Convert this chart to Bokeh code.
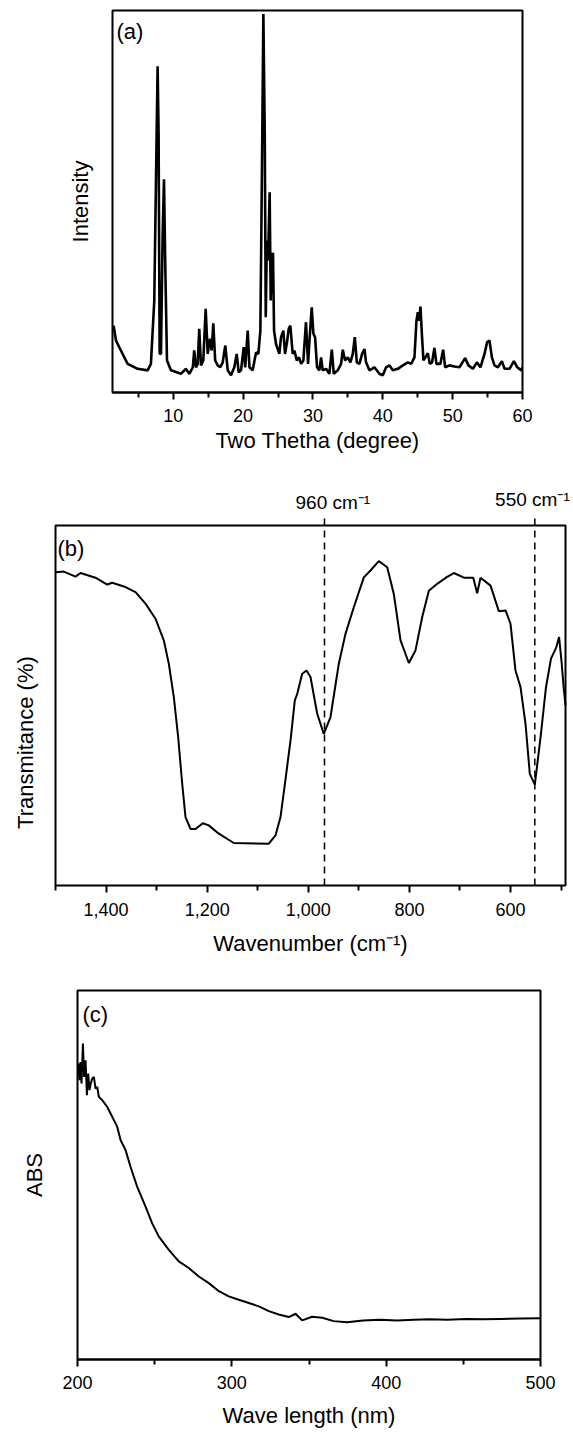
import math
from bokeh.plotting import figure
from bokeh.models import Range1d, FixedTicker, NumeralTickFormatter, Label, BoxAnnotation
from bokeh.embed import file_html
from bokeh.resources import INLINE

FONT = "Liberation Sans"

# ---------------- (a) XRD pattern ----------------
xrd_2theta = [
    1.46, 1.8, 2.5, 3.47, 4.9, 6.33, 6.8, 7.28, 7.62, 7.76,
    7.9, 8.05, 8.24, 8.48, 8.67, 8.86, 9.1, 9.67, 11.1, 11.8,
    12.3, 12.8, 13.0, 13.25, 13.5, 13.72, 13.97, 14.3, 14.64, 14.93,
    15.26, 15.5, 15.73, 16.0, 16.36, 16.73, 17.08, 17.45, 17.8, 18.27,
    18.74, 19.08, 19.37, 19.7, 20.09, 20.3, 20.66, 20.9, 21.37, 21.85,
    22.18, 22.47, 22.7, 22.9, 23.1, 23.24, 23.4, 23.57, 23.8, 23.95,
    24.1, 24.28, 24.43, 24.71, 25.19, 25.43, 25.76, 26.0, 26.29, 26.53,
    26.76, 27.1, 27.34, 27.68, 28.0, 28.3, 28.63, 29.0, 29.3, 29.5,
    29.82, 30.06, 30.3, 30.59, 30.92, 31.16, 31.4, 31.88, 32.35, 32.7,
    32.98, 33.55, 34.03, 34.27, 34.6, 34.99, 35.36, 35.7, 35.99, 36.28,
    36.65, 37.04, 37.37, 37.6, 38.08, 38.8, 39.51, 40.0, 40.47, 40.95,
    41.43, 42.15, 42.87, 43.58, 44.06, 44.53, 44.82, 45.01, 45.2, 45.39,
    45.59, 45.82, 46.1, 46.45, 46.73, 47.06, 47.39, 47.68, 48.25, 48.64,
    48.93, 49.54, 50.26, 50.97, 51.79, 52.26, 52.9, 53.47, 53.98, 54.56,
    54.94, 55.27, 55.62, 55.99, 56.48, 57.05, 57.43, 58.14, 58.77, 59.25,
    59.82, 60.0,
]
xrd_intensity = [
    17.5, 13.6, 11.0, 7.5, 6.2, 5.8, 7.5, 24.0, 67.8, 85.4,
    67.8, 10.2, 10.1, 41.5, 55.8, 32.8, 8.4, 5.8, 4.9, 6.2,
    4.9, 6.6, 11.0, 6.6, 7.5, 16.7, 7.1, 8.4, 21.9, 10.1,
    14.1, 11.0, 18.1, 8.4, 7.1, 6.6, 7.9, 12.3, 5.8, 4.5,
    6.6, 10.1, 5.3, 5.8, 11.9, 6.6, 16.2, 6.6, 5.8, 10.5,
    10.1, 16.2, 59.0, 99.1, 67.7, 19.7, 39.8, 34.6, 52.4, 24.1,
    34.6, 36.6, 16.2, 12.7, 10.1, 14.5, 16.2, 10.1, 13.2, 16.7,
    17.5, 10.1, 11.0, 8.4, 9.2, 7.5, 8.4, 18.4, 7.5, 13.6,
    22.3, 15.4, 14.5, 6.6, 5.8, 9.2, 5.8, 6.2, 4.9, 11.2,
    4.9, 5.8, 7.5, 11.2, 8.4, 9.2, 7.9, 10.1, 14.5, 7.9,
    7.5, 10.1, 11.4, 7.9, 5.8, 6.6, 4.9, 4.5, 6.6, 7.1,
    5.8, 6.2, 7.1, 7.9, 7.5, 9.2, 18.8, 21.0, 18.8, 22.5,
    15.4, 8.4, 9.2, 10.3, 7.5, 7.9, 11.7, 7.5, 7.5, 11.2,
    6.6, 7.1, 6.8, 6.6, 9.0, 7.1, 6.2, 7.9, 6.6, 10.1,
    13.2, 13.6, 9.2, 7.1, 6.6, 8.2, 6.2, 6.2, 8.2, 6.6,
    5.8, 6.6,
]
xrd_ticks = [10, 20, 30, 40, 50, 60]
xrd_minor_ticks = [5, 15, 25, 35, 45, 55]

# ---------------- (b) FTIR spectrum ----------------
ftir_wavenumber = [
    1500, 1483.6, 1460.4, 1450.6, 1420.9, 1397.7, 1387.9, 1361.5, 1341.8, 1322.0,
    1302.2, 1285.8, 1275.9, 1266.0, 1257.4, 1249.4, 1242.9, 1233.0, 1223.1, 1208.7,
    1196.8, 1177.0, 1147.3, 1078.1, 1064.9, 1055.0, 1045.1, 1035.0, 1026.7, 1022.0,
    1012.1, 1003.6, 995.7, 982.4, 969.4, 956.1, 939.7, 926.5, 910.0, 890.2,
    877.0, 860.6, 843.9, 830.9, 817.6, 801.2, 788.0, 774.8, 761.6, 745.1,
    728.0, 712.2, 692.4, 673.8, 666.0, 659.4, 639.6, 623.2, 609.9, 600.1,
    590.2, 580.3, 570.4, 561.9, 552.0, 540.0, 530.0, 520.0, 510.0, 504.0,
    499.0, 495.0, 491.3,
]
ftir_transmittance = [
    87.0, 87.2, 85.8, 86.8, 85.5, 83.6, 84.1, 82.9, 81.5, 78.3,
    74.1, 68.1, 61.6, 52.3, 41.2, 28.2, 19.0, 15.7, 15.7, 17.3,
    16.7, 14.4, 11.8, 11.6, 13.9, 19.0, 29.5, 40.5, 51.4, 53.2,
    58.8, 59.7, 57.9, 47.7, 42.1, 46.8, 61.6, 69.9, 77.3, 85.6,
    87.5, 90.1, 88.4, 81.0, 68.1, 61.8, 65.3, 74.5, 81.9, 83.8,
    85.5, 86.8, 85.5, 85.5, 81.2, 85.5, 83.3, 76.2, 76.4, 72.7,
    59.7, 55.1, 44.9, 31.0, 28.0, 42.0, 55.0, 63.0, 66.0, 69.0,
    62.0, 55.0, 50.0,
]
ftir_ticks = [1400, 1200, 1000, 800, 600]
ftir_minor_ticks = [1500, 1300, 1100, 900, 700, 500]
ftir_marks = [968, 552]
ftir_mark_labels = ["960 cm\u207b\u00b9", "550 cm\u207b\u00b9"]

# ---------------- (c) UV-Vis absorbance ----------------
uv_wavelength = [
    200.0, 200.4, 201.3, 201.9, 202.6, 203.5, 204.3, 205.2, 206.1, 206.9,
    207.8, 208.6, 209.5, 210.6, 211.7, 212.8, 213.8, 216.0, 219.2, 222.5,
    225.7, 227.9, 231.1, 234.3, 238.7, 244.1, 248.4, 252.7, 259.2, 265.6,
    272.1, 278.6, 285.1, 291.6, 298.0, 304.5, 311.0, 317.5, 324.0, 330.4,
    336.9, 341.3, 345.6, 352.0, 358.6, 366.0, 374.7, 385.0, 396.3, 407.0,
    417.9, 428.0, 439.5, 452.0, 463.0, 474.1, 487.0, 500.0,
]
uv_absorbance = [
    78.4, 80.2, 75.7, 80.6, 74.8, 85.6, 76.6, 81.1, 71.6, 77.5,
    73.0, 74.8, 76.1, 76.6, 73.4, 73.9, 71.2, 70.3, 68.5, 65.8,
    63.1, 59.5, 56.8, 52.3, 46.8, 41.4, 36.9, 33.3, 29.7, 26.6,
    24.8, 22.5, 20.7, 18.5, 17.1, 16.2, 15.3, 14.4, 13.1, 12.2,
    11.5, 12.4, 10.6, 11.6, 11.3, 10.4, 10.1, 10.6, 10.8, 10.6,
    10.8, 10.9, 10.8, 11.0, 10.9, 11.0, 11.1, 11.2,
]
uv_ticks = [200, 300, 400, 500]
uv_minor_ticks = [250, 350, 450]


def style_xaxis(ax, xticks, xminor, standoff):
    ax.ticker = FixedTicker(ticks=xticks, minor_ticks=xminor)
    ax.axis_line_color = "black"
    ax.axis_line_width = 2
    ax.major_tick_line_color = "black"
    ax.major_tick_line_width = 2
    ax.minor_tick_line_color = "black"
    ax.minor_tick_line_width = 2
    ax.major_tick_in = 0
    ax.major_tick_out = 7
    ax.minor_tick_in = 0
    ax.minor_tick_out = 5
    ax.major_label_standoff = standoff
    ax.major_label_text_font = FONT
    ax.major_label_text_font_size = "18px"
    ax.major_label_text_color = "black"


def style_std(p, xticks, xminor, xlabel, ylabel, xlabel_standoff, ylabel_standoff):
    p.grid.visible = False
    p.outline_line_color = "black"
    p.outline_line_width = 2
    p.outline_line_alpha = 1.0
    ax = p.xaxis[0]
    style_xaxis(ax, xticks, xminor, 9)
    ax.axis_label = xlabel
    ax.axis_label_text_font = FONT
    ax.axis_label_text_font_size = "22px"
    ax.axis_label_text_font_style = "normal"
    ax.axis_label_text_color = "black"
    ax.axis_label_standoff = xlabel_standoff
    ay = p.yaxis[0]
    ay.ticker = FixedTicker(ticks=[])
    ay.major_tick_in = 0
    ay.major_tick_out = 0
    ay.minor_tick_in = 0
    ay.minor_tick_out = 0
    ay.axis_line_color = None
    ay.major_label_standoff = 0
    ay.axis_label = ylabel
    ay.axis_label_text_font = FONT
    ay.axis_label_text_font_size = "22px"
    ay.axis_label_text_font_style = "normal"
    ay.axis_label_text_color = "black"
    ay.axis_label_standoff = ylabel_standoff


def add_text(p, x, y, text, size, align="left", baseline="top", angle=0.0):
    p.add_layout(Label(x=x, y=y, text=text, text_font=FONT, text_font_size=size,
                       text_color="black", text_align=align, text_baseline=baseline,
                       angle=angle))


W = 573

# ---- (a) ----
pa = figure(width=W, height=458, x_range=Range1d(1.3, 60), y_range=Range1d(0, 100),
            output_backend="svg", toolbar_location=None,
            min_border_left=112, min_border_right=51, min_border_top=10, min_border_bottom=66)
style_std(pa, xrd_ticks, xrd_minor_ticks, "Two Thetha (degree)", "Intensity", 3, 20)
pa.line(xrd_2theta, xrd_intensity, line_color="black", line_width=2.6)
add_text(pa, 1.87, 97.9, "(a)", "22px")

# ---- (b) : whole figure is the drawing area, the box is drawn explicitly ----
pb = figure(width=W, height=505, x_range=Range1d(1608.8, 475.5), y_range=Range1d(-21.67, 118.61),
            output_backend="svg", toolbar_location=None,
            min_border_left=0, min_border_right=0, min_border_top=0, min_border_bottom=0)
pb.grid.visible = False
pb.outline_line_color = None
pb.yaxis.visible = False
bx = pb.xaxis[0]
style_xaxis(bx, ftir_ticks, ftir_minor_ticks, 11)
bx.fixed_location = 0
bx.axis_line_color = None
bx.formatter = NumeralTickFormatter(format="0,0")
pb.add_layout(BoxAnnotation(left=1500, right=491.3, bottom=0, top=100, fill_alpha=0,
                            line_color="black", line_width=2, line_alpha=1.0))
pb.segment(x0=ftir_marks, y0=[0, 0], x1=ftir_marks, y1=[103.0, 103.0],
           line_color="black", line_width=1.5, line_dash="7 5")
pb.line(ftir_wavenumber, ftir_transmittance, line_color="black", line_width=2.0)
add_text(pb, 1025.3, 106.5, ftir_mark_labels[0], "19px", baseline="alphabetic")
add_text(pb, 483.0, 107.2, ftir_mark_labels[1], "19px", align="right", baseline="alphabetic")
add_text(pb, 995.7, -16.1, "Wavenumber (cm\u207b\u00b9)", "22px", align="center", baseline="middle")
add_text(pb, 1559.3, 39.7, "Transmitance (%)", "22px", align="center", baseline="middle",
         angle=math.pi / 2)
add_text(pb, 1496, 97.2, "(b)", "22px")

# ---- (c) ----
pc = figure(width=W, height=467, x_range=Range1d(200, 500), y_range=Range1d(0, 100),
            output_backend="svg", toolbar_location=None,
            min_border_left=77, min_border_right=33, min_border_top=27, min_border_bottom=70)
style_std(pc, uv_ticks, uv_minor_ticks, "Wave length (nm)", "ABS", 11, 31)
pc.line(uv_wavelength, uv_absorbance, line_color="black", line_width=2.0)
add_text(pc, 203.2, 97.0, "(c)", "22px")

open("out.html", "w").write(file_html([pa, pb, pc], INLINE))
